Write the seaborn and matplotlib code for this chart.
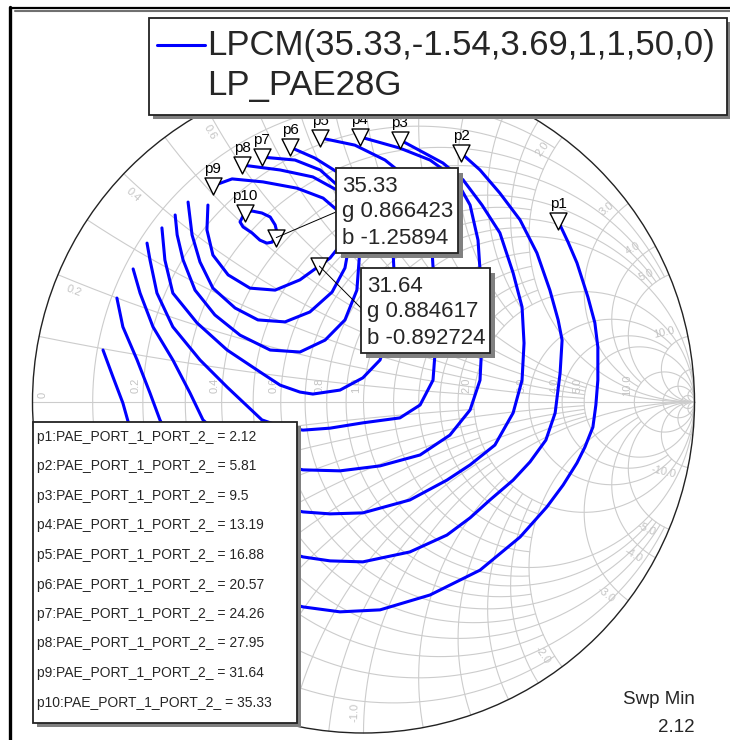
import numpy as np
import pandas as pd
import matplotlib.pyplot as plt
import matplotlib.patches as mpatches
import seaborn as sns

# PAE contour levels, marker names
levels = [2.12, 5.81, 9.5, 13.19, 16.88, 20.57, 24.26, 27.95, 31.64, 35.33]
names = ['p1', 'p2', 'p3', 'p4', 'p5', 'p6', 'p7', 'p8', 'p9', 'p10']

# contour traces, reflection coefficient (re, im)
c1_re = [0.588, 0.618, 0.645, 0.678, 0.699, 0.708, 0.708, 0.702, 0.693, 0.669, 0.645, 0.603, 0.554, 0.473, 0.352, 0.201, 0.050, -0.071, -0.183, -0.313, -0.434]
c1_im = [0.547, 0.483, 0.420, 0.317, 0.239, 0.166, 0.066, -0.009, -0.076, -0.136, -0.184, -0.251, -0.317, -0.408, -0.508, -0.583, -0.628, -0.634, -0.619, -0.583, -0.523]
c2_re = [0.295, 0.352, 0.412, 0.473, 0.524, 0.563, 0.588, 0.600, 0.594, 0.579, 0.551, 0.503, 0.452, 0.382, 0.322, 0.252, 0.140, -0.002, -0.101, -0.183, -0.343, -0.494, -0.615, -0.711, -0.727, -0.757, -0.787]
c2_im = [0.752, 0.701, 0.631, 0.550, 0.450, 0.338, 0.248, 0.187, 0.088, -0.033, -0.115, -0.181, -0.236, -0.296, -0.350, -0.402, -0.453, -0.483, -0.480, -0.468, -0.417, -0.326, -0.205, -0.060, -0.003, 0.076, 0.157]
c3_re = [0.110, 0.240, 0.301, 0.358, 0.412, 0.452, 0.479, 0.485, 0.479, 0.452, 0.397, 0.322, 0.252, 0.140, -0.002, -0.101, -0.183, -0.343, -0.494, -0.585, -0.615, -0.645, -0.684, -0.727, -0.745]
c3_im = [0.792, 0.722, 0.671, 0.595, 0.511, 0.390, 0.287, 0.178, 0.066, -0.033, -0.130, -0.190, -0.236, -0.296, -0.335, -0.338, -0.332, -0.296, -0.205, -0.115, -0.054, 0.027, 0.127, 0.227, 0.314]
c4_re = [-0.011, 0.110, 0.201, 0.276, 0.322, 0.346, 0.358, 0.358, 0.352, 0.322, 0.261, 0.171, 0.050, -0.071, -0.183, -0.313, -0.418, -0.485, -0.524, -0.576, -0.636, -0.675, -0.696]
c4_im = [0.801, 0.767, 0.731, 0.677, 0.595, 0.489, 0.308, 0.187, 0.066, -0.024, -0.100, -0.160, -0.193, -0.208, -0.205, -0.175, -0.115, -0.054, 0.027, 0.127, 0.227, 0.329, 0.402]
c5_re = [-0.131, -0.026, 0.065, 0.140, 0.186, 0.207, 0.216, 0.219, 0.210, 0.171, 0.110, -0.002, -0.101, -0.183, -0.252, -0.307, -0.412, -0.494, -0.576, -0.624, -0.645, -0.654]
c5_im = [0.798, 0.776, 0.731, 0.671, 0.580, 0.459, 0.308, 0.187, 0.066, -0.009, -0.048, -0.063, -0.079, -0.085, -0.073, -0.054, 0.045, 0.127, 0.227, 0.329, 0.429, 0.480]
c6_re = [-0.222, -0.147, -0.080, -0.005, 0.056, 0.089, 0.095, 0.080, 0.050, -0.002, -0.071, -0.153, -0.192, -0.252, -0.313, -0.412, -0.503, -0.576, -0.600, -0.609]
c6_im = [0.770, 0.737, 0.695, 0.634, 0.550, 0.459, 0.338, 0.218, 0.127, 0.073, 0.036, 0.024, 0.030, 0.051, 0.091, 0.157, 0.239, 0.329, 0.429, 0.526]
c7_re = [-0.307, -0.207, -0.131, -0.062, -0.026, -0.011, -0.020, -0.056, -0.116, -0.192, -0.282, -0.373, -0.449, -0.509, -0.545, -0.563, -0.569]
c7_im = [0.740, 0.731, 0.701, 0.640, 0.565, 0.459, 0.338, 0.248, 0.187, 0.151, 0.157, 0.202, 0.263, 0.338, 0.429, 0.505, 0.565]
c8_re = [-0.367, -0.252, -0.153, -0.080, -0.047, -0.041, -0.056, -0.095, -0.162, -0.237, -0.319, -0.388, -0.455, -0.494, -0.518, -0.530]
c8_im = [0.716, 0.701, 0.680, 0.640, 0.574, 0.489, 0.405, 0.332, 0.272, 0.242, 0.248, 0.284, 0.344, 0.423, 0.505, 0.604]
c9_re = [-0.455, -0.397, -0.304, -0.201, -0.122, -0.080, -0.068, -0.077, -0.101, -0.134, -0.192, -0.267, -0.343, -0.409, -0.455, -0.473, -0.470]
c9_im = [0.653, 0.674, 0.665, 0.646, 0.616, 0.580, 0.520, 0.465, 0.435, 0.411, 0.369, 0.338, 0.344, 0.384, 0.444, 0.520, 0.595]
c10_re = [-0.358, -0.337, -0.307, -0.282, -0.267, -0.261, -0.276, -0.292, -0.313, -0.337, -0.364, -0.373, -0.364]
c10_im = [0.571, 0.577, 0.571, 0.559, 0.535, 0.511, 0.483, 0.480, 0.489, 0.511, 0.529, 0.544, 0.562]

# marker readouts (admittance)
call_val = ['35.33', '31.64']
call_g = [0.866423, 0.884617]
call_b = [-1.25894, -0.892724]

# smith chart grid: value -> how far the line runs along the other coordinate
grid_vals = [0.1, 0.2, 0.3, 0.4, 0.5, 0.6, 0.7, 0.8, 0.9, 1.0, 1.2, 1.4, 1.6, 1.8, 2.0, 3.0, 4.0, 5.0, 10.0, 20.0, 50.0]
grid_lims = [2, 5, 2, 5, 2, 5, 2, 5, 2, 1e4, 2, 2, 2, 2, 1e4, 10, 10, 1e4, 1e4, 1e4, 1e4]
rim_labels = [0.2, 0.4, 0.6, 0.8, 1.0, 2.0, 3.0, 4.0, 5.0, 10.0]
axis_labels = [0.2, 0.4, 0.6, 0.8, 1.0, 2.0, 3.0, 4.0, 5.0, 10.0]

W, H = 730, 740
CX, CY, R = 363.5, 402.0, 331.0

sns.set_theme(style='white')
plt.rcParams['font.family'] = ['Liberation Sans', 'DejaVu Sans']

fig = plt.figure(figsize=(W / 100, H / 100), dpi=100)
ax = fig.add_axes([0, 0, 1, 1])
ax.set_xlim(-CX / R, (W - CX) / R)
ax.set_ylim((CY - H) / R, CY / R)
ax.axis('off')

def fx(px):
    return px / W

def fy(py):
    return 1 - py / H

grid_c = '#cccccc'

def zline(z):
    g = (z - 1) / (z + 1)
    ax.plot(g.real, g.imag, color=grid_c, lw=0.8, zorder=1)

for v, lim in zip(grid_vals, grid_lims):
    s = np.sinh(np.linspace(-np.arcsinh(lim / 0.05), np.arcsinh(lim / 0.05), 900)) * 0.05
    zline(v + 1j * s)                      # constant resistance
    p = np.sinh(np.linspace(0, np.arcsinh(lim / 0.05), 600)) * 0.05
    zline(p + 1j * v)                      # constant reactance
    zline(p - 1j * v)
ax.plot([-1, 1], [0, 0], color=grid_c, lw=0.8, zorder=1)
ax.add_patch(mpatches.Circle((0, 0), 1, fill=False, ec='#222222', lw=1.0, zorder=2))

lab_c = '#c4c4c4'
for v in rim_labels:
    th = 2 * np.degrees(np.arctan(1 / v))
    for s in (1, -1):
        ang = s * (th + 1.6)
        rr = 0.955 - 0.006 * len(f'{v:.1f}')
        rot = ang if -90 < ang <= 90 else ang - 180 if ang > 0 else ang + 180
        ax.text(rr * np.cos(np.radians(ang)), rr * np.sin(np.radians(ang)), f'{s * v:.1f}',
                rotation=rot, ha='center', va='center', fontsize=8, color=lab_c, zorder=2)
for v in axis_labels:
    ax.text((v - 1) / (v + 1) - 0.021, 0.05, f'{v:.1f}', rotation=90,
            ha='center', va='center', fontsize=8, color=lab_c, zorder=2)
ax.text(-0.968, 0.02, '0', rotation=90, ha='center', va='center', fontsize=8, color=lab_c, zorder=2)

# contours
res = [c1_re, c2_re, c3_re, c4_re, c5_re, c6_re, c7_re, c8_re, c9_re, c10_re]
ims = [c1_im, c2_im, c3_im, c4_im, c5_im, c6_im, c7_im, c8_im, c9_im, c10_im]
rows = []
for name, lv, re_, im_ in zip(names, levels, res, ims):
    for i, (a, b) in enumerate(zip(re_, im_)):
        rows.append({'name': name, 'level': lv, 'order': i, 're': a, 'im': b})
df = pd.DataFrame(rows)
sns.lineplot(data=df, x='re', y='im', units='name', estimator=None, sort=False,
             color='#0000ff', lw=2.2, ax=ax, zorder=3, legend=False)

starts = df[df['order'] == 0]
sns.scatterplot(data=starts, x='re', y='im', marker='v', s=150, color='white',
                edgecolor='black', linewidth=1.0, ax=ax, zorder=5, legend=False)
for _, row in starts.iterrows():
    ax.annotate(row['name'], (row['re'], row['im']), xytext=(0, 12), textcoords='offset points',
                ha='center', va='center', fontsize=11, color='black', zorder=6)

# marker readouts
yv = np.array(call_g) + 1j * np.array(call_b)
gam = (1 - yv) / (1 + yv)
ax.scatter(gam.real, gam.imag, marker='v', s=150, color='white', edgecolor='black', linewidth=1.0, zorder=5)

def shadow_box(x0, y0, x1, y1, z=8, off=5):
    ax.add_patch(mpatches.Rectangle((fx(x0 + off), fy(y1 + off)), (x1 - x0) / W, (y1 - y0) / H,
                                    transform=fig.transFigure, fc='#808080', ec='none', zorder=z, clip_on=False))
    ax.add_patch(mpatches.Rectangle((fx(x0), fy(y1)), (x1 - x0) / W, (y1 - y0) / H,
                                    transform=fig.transFigure, fc='white', ec='#222222', lw=1.3, zorder=z + 0.1, clip_on=False))

boxes = [(336, 168, 458, 253, 212), (361, 268, 490, 353, 308)]
for k, (x0, y0, x1, y1, ly) in enumerate(boxes):
    ax.annotate('', xy=(gam[k].real, gam[k].imag), xycoords='data', xytext=(fx(x0), fy(ly)),
                textcoords='figure fraction', zorder=7,
                arrowprops=dict(arrowstyle='-', color='black', lw=0.7, shrinkA=0, shrinkB=0))
    shadow_box(x0, y0, x1, y1)
    lines = [call_val[k], f'g {call_g[k]:g}', f'b {call_b[k]:g}']
    for j, s in enumerate(lines):
        fig.text(fx(x0 + 6), fy(y0 + 18 + 26 * j), s, fontsize=16, ha='left', va='center', zorder=9)

# top legend
shadow_box(149, 18, 727, 115, z=10, off=4)
ax.plot([fx(157), fx(205)], [fy(45), fy(45)], transform=fig.transFigure, color='#0000ff', lw=2.2, zorder=11, clip_on=False)
fig.text(fx(207), fy(55), 'LPCM(35.33,-1.54,3.69,1,1,50,0)', fontsize=25, ha='left', va='baseline', zorder=11)
fig.text(fx(207), fy(95), 'LP_PAE28G', fontsize=25, ha='left', va='baseline', zorder=11)

# bottom-left marker list
shadow_box(33, 422, 297, 723, z=10, off=4)
for i, (name, lv) in enumerate(zip(names, levels)):
    fig.text(fx(37), fy(437 + 29.5 * i), f'{name}:PAE_PORT_1_PORT_2_ = {lv:g}',
             fontsize=10, ha='left', va='center', zorder=11)

fig.text(fx(695), fy(700), 'Swp Min', fontsize=13.5, ha='right', va='center')
fig.text(fx(695), fy(727), f'{levels[0]:g}', fontsize=13.5, ha='right', va='center')

# window frame
ax.plot([fx(10), fx(730)], [fy(8), fy(8)], transform=fig.transFigure, color='black', lw=1.6, clip_on=False, zorder=12)
ax.plot([fx(15), fx(730)], [fy(10.5), fy(10.5)], transform=fig.transFigure, color='#707070', lw=1.5, clip_on=False, zorder=12)
ax.plot([fx(10), fx(10)], [fy(7), fy(740)], transform=fig.transFigure, color='black', lw=2.4, clip_on=False, zorder=12)

fig.savefig('out.png', dpi=100)
